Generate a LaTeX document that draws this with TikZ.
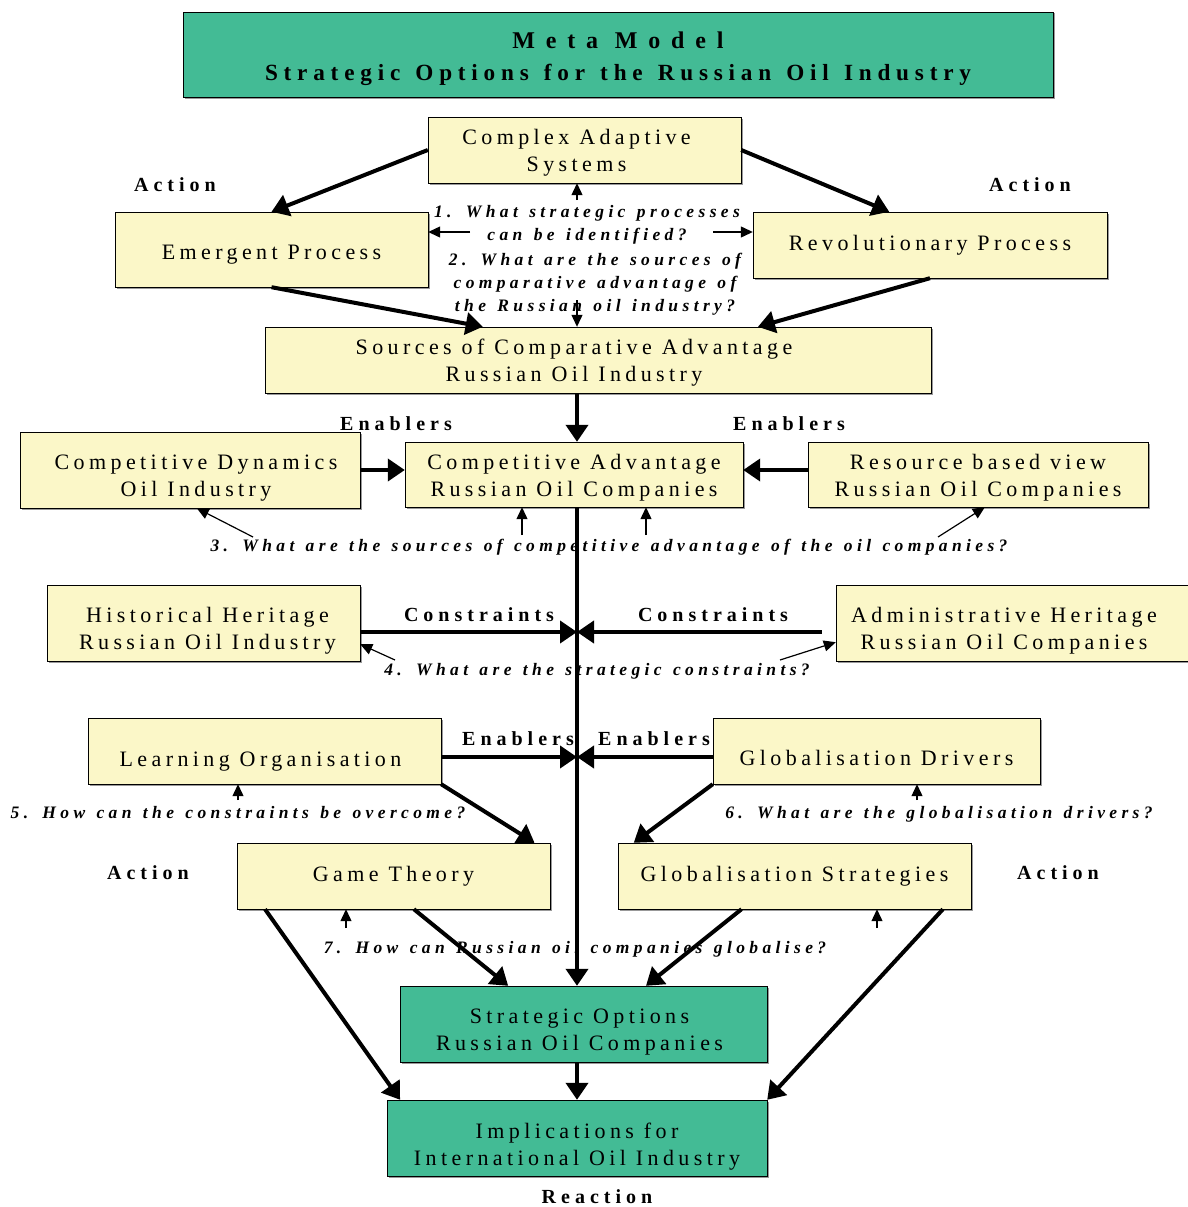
\documentclass[tikz,border=0pt]{standalone}
\usepackage{fontspec}
\setmainfont{Liberation Serif}
\newfontfamily\boxfont[LetterSpace=20]{Liberation Serif}
\newfontfamily\tagfont[LetterSpace=25]{Liberation Serif}
\newfontfamily\headfont[LetterSpace=45]{Liberation Serif}
\newfontfamily\questfont[LetterSpace=25, WordSpace=1.3]{Liberation Serif}
\usepackage{tikz}
\usetikzlibrary{arrows.meta, calc, shadows}

\definecolor{boxyellow}{RGB}{251,247,200}
\definecolor{boxgreen}{RGB}{67,187,149}

% invisible strut that pushes the text of a box downwards
\newcommand{\sinkby}[1]{\rule{0pt}{#1}}

\tikzset{
    block/.style = {draw, thin, fill=boxyellow, align=center, inner sep=0pt,
        font=\boxfont\fontsize{22}{27}\selectfont,
        drop shadow={shadow xshift=1.5pt, shadow yshift=-1.5pt, fill=black!40, opacity=1}},
    goal/.style = {block, fill=boxgreen},
    tag/.style = {font=\tagfont\bfseries\fontsize{20}{24}\selectfont},
    quest/.style = {align=center, inner sep=0pt, font=\questfont\bfseries\itshape\fontsize{17.5}{23}\selectfont},
    flow/.style = {-{Triangle[length=17pt, width=22pt]}, line width=4pt},
    hint/.style = {-{Triangle[length=12pt, width=11pt]}, line width=1.2pt},
}

\begin{document}
\begin{tikzpicture}[x=1pt, y=-1pt]
    \useasboundingbox (0,0) rectangle (1187,1207);

    \node (title) [goal, minimum width=870pt, minimum height=85pt,
        font=\tagfont\bfseries\fontsize{23.2}{32}\selectfont] at (618,54.5)
        {\sinkby{26pt}{\headfont\bfseries\fontsize{24}{32}\selectfont Meta Model}\\Strategic Options for the Russian Oil Industry};

    % boxes
    \node (cas) [block, minimum width=313pt, minimum height=66pt] at (584.5,150)
        {\sinkby{21pt}Complex Adaptive\hspace*{16pt}\\Systems\hspace*{16pt}};
    \node (ep) [block, minimum width=313pt, minimum height=75pt] at (271.5,249.5) {\sinkby{25pt}Emergent Process};
    \node (rev) [block, minimum width=354pt, minimum height=66pt] at (930,245) {Revolutionary Process};
    \node (src) [block, minimum width=666pt, minimum height=66pt] at (598,360)
        {\sinkby{21pt}Sources of Comparative Advantage\hspace*{48pt}\\Russian Oil Industry\hspace*{48pt}};
    \node (cd) [block, minimum width=340pt, minimum height=76pt] at (190,470)
        {\sinkby{31pt}\hspace*{12pt}Competitive Dynamics\\\hspace*{12pt}Oil Industry};
    \node (ca) [block, minimum width=338pt, minimum height=65pt] at (574,474.5)
        {\sinkby{21pt}Competitive Advantage\\Russian Oil Companies};
    \node (rbv) [block, minimum width=340pt, minimum height=65pt] at (978,474.5)
        {\sinkby{21pt}Resource based view\\Russian Oil Companies};
    \node (hh) [block, minimum width=313pt, minimum height=76pt] at (203.5,623)
        {\sinkby{31pt}\hspace*{8pt}Historical Heritage\\\hspace*{8pt}Russian Oil Industry};
    \node (ah) [block, minimum width=359pt, minimum height=76pt] at (1015.5,623)
        {\sinkby{31pt}Administrative Heritage\hspace*{23pt}\\Russian Oil Companies\hspace*{23pt}};
    \node (lo) [block, minimum width=353pt, minimum height=66pt] at (264.5,751) {\sinkby{35pt}Learning Organisation\hspace*{8pt}};
    \node (gd) [block, minimum width=327pt, minimum height=66pt] at (876.5,751) {\sinkby{29pt}Globalisation Drivers};
    \node (gt) [block, minimum width=313pt, minimum height=66pt] at (393.5,876) {Game Theory};
    \node (gs) [block, minimum width=353pt, minimum height=66pt] at (794.5,876) {Globalisation Strategies};
    \node (so) [goal, minimum width=367pt, minimum height=76pt] at (583.5,1024)
        {\sinkby{31pt}Strategic Options\hspace*{8pt}\\Russian Oil Companies\hspace*{8pt}};
    \node (imp) [goal, minimum width=380pt, minimum height=76pt] at (577,1138)
        {\sinkby{33pt}Implications for\\International Oil Industry};

    % labels
    \node (act1) [tag] at (175,185) {Action};
    \node (act2) [tag] at (1030,185) {Action};
    \node (en1) [tag] at (396,424) {Enablers};
    \node (en2) [tag] at (789,424) {Enablers};
    \node (con1) [tag] at (479,615) {Constraints};
    \node (con2) [tag] at (713,615) {Constraints};
    \node (en3) [tag] at (518,739) {Enablers};
    \node (en4) [tag] at (654,739) {Enablers};
    \node (act3) [tag] at (148,873) {Action};
    \node (act4) [tag] at (1058,873) {Action};
    \node (react) [tag] at (597,1197) {Reaction};

    % questions
    \node (q1) [quest] at (587,225) {1. What strategic processes\\can be identified?};
    \node (q2) [quest] at (595,284) {2. What are the sources of\\comparative advantage of\\the Russian oil industry?};
    \node (q3) [quest] at (609,547) {3. What are the sources of competitive advantage of the oil companies?};
    \node (q4) [quest] at (597,671) {4. What are the strategic constraints?};
    \node (q5) [quest] at (238,813) {5. How can the constraints be overcome?};
    \node (q6) [quest] at (939,814) {6. What are the globalisation drivers?};
    \node (q7) [quest] at (575,949) {7. How can Russian oil companies globalise?};

    \coordinate (hub1) at (577,632);
    \coordinate (hub2) at (577,757);

\path [flow]
    (cas.west) edge (ep.north)
    (cas.east) edge ($(rev.north west)!0.385!(rev.north east)$)
    (ep.south) edge ($(src.north west)!0.327!(src.north east)$)
    (rev.south) edge ($(src.north west)!0.74!(src.north east)$)
    (src.south -| imp.north) edge (ca.north -| imp.north)
    (cd.east) edge (cd.east -| ca.west)
    (rbv.west |- cd.east) edge (ca.east |- cd.east)
    (ca.south -| imp.north) edge (so.north -| imp.north)
    (hh.east |- hub1) edge (hub1)
    (ah.west |- hub1) edge [shorten <=14pt] (hub1)
    (lo.east |- hub2) edge (hub2)
    (gd.west |- hub2) edge (hub2)
    (lo.south east) edge ($(gt.north west)!0.95!(gt.north east)$)
    (gd.south west) edge ($(gs.north west)!0.045!(gs.north east)$)
    ($(gt.south west)!0.09!(gt.south east)$) edge ($(imp.north west)!0.035!(imp.north east)$)
    ($(gt.south west)!0.565!(gt.south east)$) edge ($(so.north west)!0.295!(so.north east)$)
    ($(gs.south west)!0.35!(gs.south east)$) edge ($(so.north west)!0.67!(so.north east)$)
    ($(gs.south west)!0.92!(gs.south east)$) edge (imp.north east)
    (so.south -| imp.north) edge (imp.north);

    % question pointers
    \coordinate (h1) at (577,200);
    \coordinate (h2) at (470,232);
    \coordinate (h3) at (713,232);
    \coordinate (h4) at (577,300);
    \coordinate (h5) at (522,535);
    \coordinate (h6) at (646,535);
    \coordinate (h7) at (253,537);
    \coordinate (h8) at (938,537);
    \coordinate (h9) at (395,660);
    \coordinate (h10) at (780,660);
    \coordinate (h11) at (238,800);
    \coordinate (h12) at (917,800);
    \coordinate (h13) at (346,928);
    \coordinate (h14) at (877,928);

\path [hint]
    (h1) edge (cas.south -| h1)
    (h2) edge (ep.east |- h2)
    (h3) edge (rev.west |- h3)
    (h4) edge (src.north -| h4)
    (h5) edge (ca.south -| h5)
    (h6) edge (ca.south -| h6)
    (h7) edge ($(cd.south west)!0.52!(cd.south east)$)
    (h8) edge ($(rbv.south west)!0.52!(rbv.south east)$)
    (h9) edge ($(hh.south east)+(0,-17)$)
    (h10) edge ($(ah.south west)+(0,-19)$)
    (h11) edge (lo.south -| h11)
    (h12) edge (gd.south -| h12)
    (h13) edge (gt.south -| h13)
    (h14) edge (gs.south -| h14);

\end{tikzpicture}
\end{document}
